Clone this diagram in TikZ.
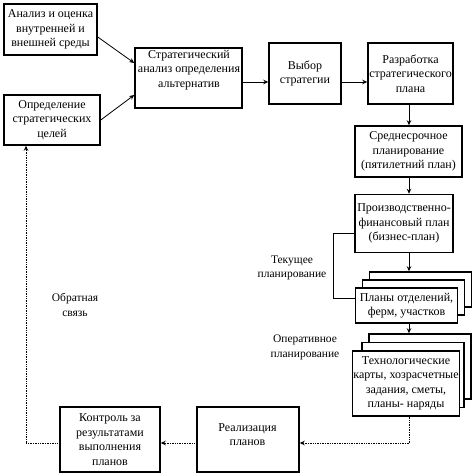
\documentclass[tikz,border=0pt]{standalone}
\usepackage{fontspec}
\setmainfont{Liberation Serif}
\usetikzlibrary{arrows.meta,calc}
\begin{document}
\begin{tikzpicture}[x=1pt,y=-1pt,
  box/.style={draw,line width=1.5pt,fill=white,align=center,inner sep=1pt,
    font=\fontsize{12}{14.5}\selectfont},
  boxtext/.style={align=center,inner sep=0pt,font=\fontsize{12}{14.5}\selectfont},
  lbl/.style={align=center,inner sep=0pt,font=\fontsize{11.5}{14.5}\selectfont},
  conn/.style={line width=0.8pt,-{Stealth[length=5pt,width=4.5pt]}},
  dconn/.style={line width=0.7pt,densely dotted,-{Stealth[length=5pt,width=4.5pt]}},
  dline/.style={line width=0.7pt,densely dotted},
  thin line/.style={line width=0.7pt}]
\useasboundingbox (0,0) rectangle (472,476);
\fill[white] (0,0) rectangle (472,476);

\node[box,minimum width=93pt,minimum height=51pt] (b1) at (50.5,29.5)
  {Анализ и оценка\\внутренней и\\внешней среды};
\node[box,minimum width=96pt,minimum height=50pt] (b2) at (52,120)
  {Определение\\стратегических\\целей};
\node[box,minimum width=107pt,minimum height=60pt] (b3) at (188.5,78) {};
\node[boxtext] (b3t) at (189,70)
  {Стратегический\\анализ определения\\альтернатив};
\node[box,minimum width=72pt,minimum height=61pt] (b4) at (305,73.5)
  {Выбор\\стратегии};
\node[box,minimum width=85pt,minimum height=61pt] (b5) at (410.5,73.5)
  {Разработка\\стратегического\\плана};
\node[box,minimum width=107pt,minimum height=51pt] (b6) at (408.5,151.5)
  {Среднесрочное\\планирование\\(пятилетний план)};
\node[box,minimum width=98pt,minimum height=58pt] (b7) at (404,223.5)
  {Производственно-\\финансовый план\\(бизнес-план)};

\node[box,minimum width=102pt,minimum height=35pt] (pB) at (420.5,289.5) {};
\node[box,minimum width=102pt,minimum height=35pt] (pM) at (413.5,297.5) {};
\node[box,minimum width=102pt,minimum height=35pt] (pF) at (406.5,305.5)
  {Планы отделений,\\ферм, участков};

\node[box,minimum width=102pt,minimum height=65pt] (tB) at (420,366.5) {};
\node[box,minimum width=102pt,minimum height=65pt] (tM) at (413,375) {};
\node[box,minimum width=102pt,minimum height=65pt] (tF) at (406,383.5)
  {Технологические\\карты, хозрасчетные\\задания, сметы,\\планы- наряды};

\node[box,minimum width=102pt,minimum height=65pt] (real) at (248,439.5) {};
\node[boxtext] (realt) at (247.5,434.5) {Реализация\\планов};
\node[box,minimum width=100pt,minimum height=65pt] (ctrl) at (110,439.5)
  {Контроль за\\результатами\\выполнения\\планов};

\node[lbl] (l1) at (292,268) {Текущее\\планирование};
\node[lbl] (l2) at (305,347.5) {Оперативное\\планирование};
\node[lbl] (l3) at (75,305) {Обратная\\связь};

\coordinate (spine) at (409,0);
\coordinate (c1) at (409,443);
\coordinate (c2) at (26,443);
\coordinate (c3) at (333,0);

\draw[conn] ([yshift=-7.5pt]b1.east) -- ([yshift=15pt]b3.west);
\draw[conn] (b2.east) -- ([yshift=-17pt]b3.west);
\draw[conn] ([yshift=-4pt]b3.east) -- ([yshift=-4pt]b3.east -| b4.west);
\draw[conn] ([yshift=-8.5pt]b4.east) -- ([yshift=-8.5pt]b4.east -| b5.west);
\draw[conn] (spine |- b5.south) -- (spine |- b6.north);
\draw[conn] (spine |- b6.south) -- (spine |- b7.north);
\draw[conn] (spine |- b7.south) -- (spine |- pB.north);
\draw[conn] (spine |- pF.south) -- (spine |- tB.north);
\draw[dline] (spine |- tF.south) -- (c1);
\draw[dconn] (c1) -- (c1 -| real.east);
\draw[dconn] (c1 -| real.west) -- (c1 -| ctrl.east);
\draw[dline] (c1 -| ctrl.west) -- (c2);
\draw[dconn] (c2) -- (c2 |- b2.south);

\draw[thin line] ([yshift=-9.5pt]b7.west) -- ([yshift=-9.5pt]b7.west -| c3)
  -- ([yshift=7.5pt]pF.west -| c3) -- ([yshift=7.5pt]pF.west);
\end{tikzpicture}
\end{document}
